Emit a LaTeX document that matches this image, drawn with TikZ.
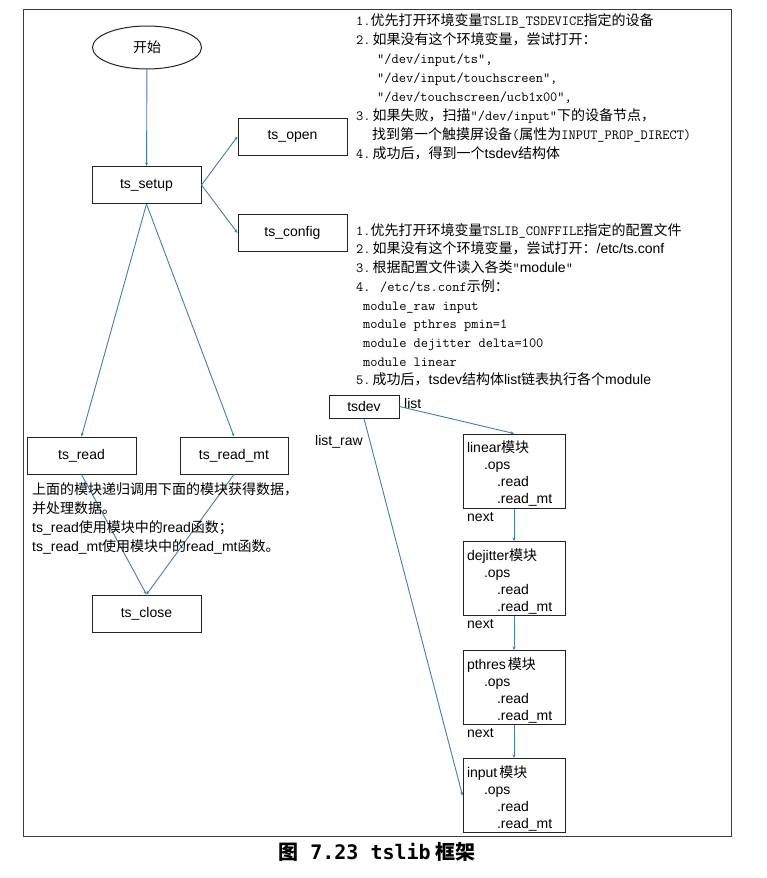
\documentclass[tikz,border=0pt]{standalone}
\usepackage{fontspec}
\setmainfont{Liberation Sans}
\newfontfamily\zhf{Noto Sans CJK SC}
\newfontfamily\capmono{DejaVu Sans Mono}
\newcommand\zh[1]{{\zhf #1}}
\newcommand\sfl[1]{{\rmfamily #1}}
\newcommand\fst{\rule{0pt}{17pt}}
\usetikzlibrary{shapes.geometric,arrows.meta}
\definecolor{conn}{RGB}{68,125,176}
\definecolor{edgec}{RGB}{35,35,35}
\definecolor{framec}{RGB}{60,60,60}
\begin{document}
\begin{tikzpicture}[x=1pt,y=-1pt,
  fbox/.style={draw=edgec, line width=1pt, rectangle, minimum width=109pt, minimum height=37pt, inner sep=0pt, font=\fontsize{14}{16}\selectfont},
  modbox/.style={draw=edgec, line width=1pt, rectangle, minimum width=102pt, minimum height=74pt, text width=94pt, inner xsep=4pt, inner ysep=0pt, align=left, font=\fontsize{14}{17}\selectfont},
  ln/.style={anchor=base west, inner sep=0pt},
  mono/.style={ln, font=\ttfamily\fontsize{14}{16}\selectfont},
  sans/.style={ln, font=\fontsize{14}{16}\selectfont},
  arr/.style={draw=conn, line width=0.9pt, -{Stealth[length=3.5pt,width=3pt]}}]
\fill[white] (0,0) rectangle (766,878);
\useasboundingbox (0,0) rectangle (766,878);
\draw[framec, line width=1pt] (23,9) rectangle (731,836);

% left flow
\node[draw=edgec, line width=1pt, ellipse, minimum width=109pt, minimum height=43pt, inner sep=0pt, font=\zhf\fontsize{14}{16}\selectfont] (start) at (147,47.5) {开始};
\node[fbox] (setup) at (146.5,185) {ts\_setup};
\node[fbox] (open) at (292.5,136.5) {ts\_open};
\node[fbox] (config) at (292.5,233) {ts\_config};
\node[fbox] (read) at (81.5,455.5) {ts\_read};
\node[fbox, minimum width=108pt] (readmt) at (234,455.5) {ts\_read\_mt};
\node[fbox] (close) at (146.5,613.5) {ts\_close};

\draw[arr] (start) -- (setup);
\draw[arr] (setup.east) -- (open.west);
\draw[arr] (setup.east) -- (config.west);
\draw[arr] (setup.south) -- (read.north);
\draw[arr] (setup.south) -- (readmt.north);
\draw[arr] (read.south) -- (close.north);
\draw[arr] (readmt.south) -- (close.north);

% left note
\node[sans] (n1) at (32,494) {\zh{上面的模块递归调用下面的模块获得数据，}};
\node[sans] (n2) at (32,513) {\zh{并处理数据。}};
\node[sans] (n3) at (32,532) {ts\_read\zh{使用模块中的}read\zh{函数；}};
\node[sans] (n4) at (32,551) {ts\_read\_mt\zh{使用模块中的}read\_mt\zh{函数。}};

% block 1
\node[mono] (a1) at (356,25) {1.\zh{优先打开环境变量}TSLIB\_TSDEVICE\zh{指定的设备}};
\node[mono] (a2) at (356,44) {2.\hspace{2pt}\zh{如果没有这个环境变量，尝试打开：}};
\node[mono] (a3) at (377,63) {"/dev/input/ts",};
\node[mono] (a4) at (377,82) {"/dev/input/touchscreen",};
\node[mono] (a5) at (377,101) {"/dev/touchscreen/ucb1x00",};
\node[mono] (a6) at (356,120) {3.\hspace{2pt}\zh{如果失败，扫描}"/dev/input"\zh{下的设备节点，}};
\node[mono] (a7) at (372,139) {\zh{找到第一个触摸屏设备}(\zh{属性为}INPUT\_PROP\_DIRECT)};
\node[mono] (a8) at (356,158) {4.\hspace{2pt}\zh{成功后，得到一个}\sfl{tsdev}\zh{结构体}};

% block 2
\node[mono] (c1) at (356,235) {1.\zh{优先打开环境变量}TSLIB\_CONFFILE\zh{指定的配置文件}};
\node[mono] (c2) at (356,253) {2.\hspace{2pt}\zh{如果没有这个环境变量，尝试打开：}\sfl{/etc/ts.conf}};
\node[mono] (c3) at (356,272) {3.\hspace{2pt}\zh{根据配置文件读入各类}"\sfl{module}"};
\node[mono] (c4) at (356,291) {4. /etc/ts.conf\zh{示例：}};
\node[mono] (c5) at (363,310) {module\_raw input};
\node[mono] (c6) at (363,328) {module pthres pmin=1};
\node[mono] (c7) at (363,347) {module dejitter delta=100};
\node[mono] (c8) at (363,366) {module linear};
\node[mono] (c9) at (356,384) {5.\hspace{2pt}\zh{成功后，}\sfl{tsdev}\zh{结构体}\sfl{list}\zh{链表执行各个}\sfl{module}};

% tsdev and modules
\node[draw=edgec, line width=1pt, rectangle, minimum width=70pt, minimum height=23pt, inner sep=0pt, font=\fontsize{14}{16}\selectfont] (tsdev) at (364,406.5) {tsdev};
\node[sans] (lbllist) at (404,408) {list};
\node[sans] (lblraw) at (315,445) {list\_raw};

\node[modbox] (linear) at (514,471) {\fst linear\zh{模块}\\\hspace*{17pt}.ops\\\hspace*{30pt}.read\\\hspace*{30pt}.read\_mt};
\node[modbox] (dejitter) at (514,578.5) {\fst dejitter\zh{模块}\\\hspace*{17pt}.ops\\\hspace*{30pt}.read\\\hspace*{30pt}.read\_mt};
\node[modbox] (pthres) at (514,687.5) {\fst pthres\hspace{2pt}\zh{模块}\\\hspace*{17pt}.ops\\\hspace*{30pt}.read\\\hspace*{30pt}.read\_mt};
\node[modbox] (input) at (514,795.5) {\fst input\hspace{2pt}\zh{模块}\\\hspace*{17pt}.ops\\\hspace*{30pt}.read\\\hspace*{30pt}.read\_mt};

\node[sans] (next1) at (467,521) {next};
\node[sans] (next2) at (467,628) {next};
\node[sans] (next3) at (467,737) {next};

\draw[arr] (tsdev.east) -- (linear.north);
\draw[arr] (tsdev.south) -- (input.west);
\draw[arr] (linear) -- (dejitter);
\draw[arr] (dejitter) -- (pthres);
\draw[arr] (pthres) -- (input);

% caption
\node[anchor=base, inner sep=0pt] (caption) at (377,859) {{\zhf\bfseries\fontsize{20}{21}\selectfont 图}{\capmono\bfseries\fontsize{20}{21}\selectfont\ 7.23 tslib}\hspace{5pt}{\zhf\bfseries\fontsize{20}{21}\selectfont 框架}};
\end{tikzpicture}
\end{document}
